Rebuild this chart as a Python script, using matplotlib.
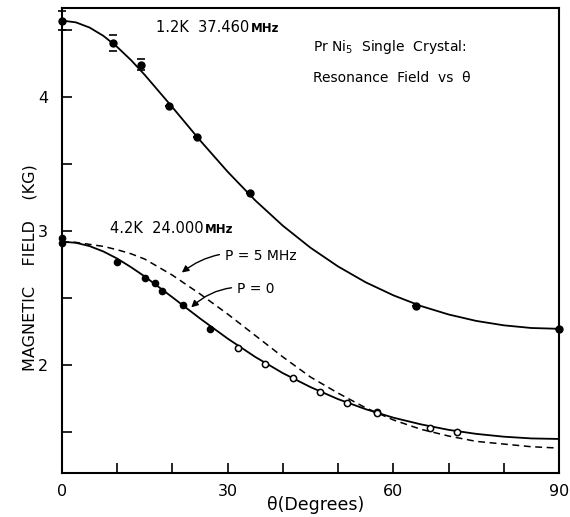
import matplotlib
matplotlib.use("Agg")
import matplotlib.pyplot as plt

# ---- data ----
# 1.2 K, 37.460 MHz : measured points and the fitted curve
theta_hi = [0, 9.2, 14.3, 19.4, 24.4, 34.1, 64.1, 90]
field_hi = [4.57, 4.40, 4.24, 3.93, 3.70, 3.28, 2.44, 2.27]
err_hi = [0.07, 0.06, 0.04, 0.0, 0.0, 0.0, 0.0, 0.0]

curve_theta = [0, 2.5, 5, 7.5, 10, 12.5, 15, 20, 25, 30, 35, 40, 45, 50, 55, 60,
               65, 70, 75, 80, 85, 90]
curve_hi = [4.570, 4.557, 4.518, 4.456, 4.373, 4.275, 4.164, 3.923, 3.676, 3.442,
            3.228, 3.039, 2.875, 2.735, 2.617, 2.520, 2.440, 2.377, 2.329, 2.296,
            2.276, 2.270]

# 4.2 K, 24.000 MHz : measured points, P=0 curve and P=5 MHz curve
theta_lo_full = [0, 0, 9.9, 15.0, 16.9, 18.1, 22.0, 26.8]
field_lo_full = [2.95, 2.91, 2.77, 2.65, 2.61, 2.55, 2.45, 2.27]
theta_lo_open = [31.8, 36.8, 41.8, 46.7, 51.6, 57.1, 57.1, 66.7, 71.6]
field_lo_open = [2.13, 2.01, 1.90, 1.80, 1.72, 1.65, 1.64, 1.53, 1.50]

curve_p0 = [2.920, 2.912, 2.887, 2.847, 2.794, 2.730, 2.660, 2.505, 2.347, 2.197,
            2.060, 1.939, 1.835, 1.745, 1.670, 1.607, 1.557, 1.516, 1.486, 1.465,
            1.452, 1.448]
curve_p5 = [2.92, 2.915, 2.90, 2.885, 2.86, 2.83, 2.79, 2.67, 2.53, 2.38,
            2.22, 2.06, 1.91, 1.79, 1.68, 1.59, 1.52, 1.47, 1.43, 1.41,
            1.39, 1.38]

x_major = [0, 30, 60, 90]
x_minor = [10, 20, 40, 50, 70, 80]
y_major = [2, 3, 4]
y_minor = [1.5, 2.5, 3.5, 4.5]

plt.rcParams['font.family'] = ['DejaVu Sans']
fig = plt.figure(figsize=(5.7, 5.17), dpi=100)
ax = fig.add_axes([62/570, 44/517, 497/570, 465/517])

ax.plot(curve_theta, curve_hi, color='k', lw=1.3)
ax.plot(curve_theta, curve_p0, color='k', lw=1.3)
ax.plot(curve_theta, curve_p5, color='k', lw=1.1, ls=(0, (4.5, 3)))

ax.errorbar(theta_hi, field_hi, yerr=err_hi, fmt='o', color='k', ms=5,
            elinewidth=0, capsize=3, capthick=1.2, clip_on=False, zorder=3)
ax.plot(theta_lo_full, field_lo_full, 'o', color='k', ms=4.5, clip_on=False, zorder=3)
ax.plot(theta_lo_open, field_lo_open, 'o', mfc='white', mec='k', mew=1.1, ms=4.5, zorder=3)

ax.set_xlim(0, 90)
ax.set_ylim(1.194, 4.664)
ax.set_xticks(x_major)
ax.set_xticks(x_minor, minor=True)
ax.set_yticks(y_major)
ax.set_yticks(y_minor, minor=True)
ax.tick_params(which='both', direction='in', top=False, right=False, width=1.2)
ax.tick_params(axis='x', which='both', length=7, pad=8, labelsize=11.5)
ax.tick_params(axis='y', which='both', length=7, pad=10, labelsize=11.5)
for s in ax.spines.values():
    s.set_linewidth(1.5)

# annotations
t1 = ax.text(17.0, 4.52, "1.2K  37.460", fontsize=10.5, va='center')
ax.annotate("MHz", xy=(1, 0), xycoords=t1, xytext=(1, 0), textcoords='offset points',
            fontsize=8.5, fontweight='bold', va='bottom')
t2 = ax.text(8.7, 3.02, "4.2K  24.000", fontsize=10.5, va='center')
ax.annotate("MHz", xy=(1, 0), xycoords=t2, xytext=(1, 0), textcoords='offset points',
            fontsize=8.5, fontweight='bold', va='bottom')

ax.text(45.5, 4.37, "Pr Ni$_5$  Single  Crystal:", fontsize=10, va='center')
ax.text(45.5, 4.14, "Resonance  Field  vs  θ", fontsize=10, va='center')

arrow = dict(arrowstyle='-|>', color='k', lw=1.0, mutation_scale=10,
             connectionstyle='arc3,rad=0.25', shrinkA=2, shrinkB=0)
ax.annotate("P = 5 MHz", xy=(21.7, 2.69), xytext=(29.5, 2.81), fontsize=10,
            va='center', arrowprops=arrow)
ax.annotate("P = 0", xy=(23.4, 2.43), xytext=(31.7, 2.57), fontsize=10,
            va='center', arrowprops=arrow)

fig.text(30/570, 1 - 268/517, "MAGNETIC    FIELD    (KG)", rotation=90,
         ha='center', va='center', fontsize=11.5)
fig.text(316/570, 1 - 505/517, "θ(Degrees)", ha='center', va='center', fontsize=12.5)

fig.savefig("out.png", dpi=100)
